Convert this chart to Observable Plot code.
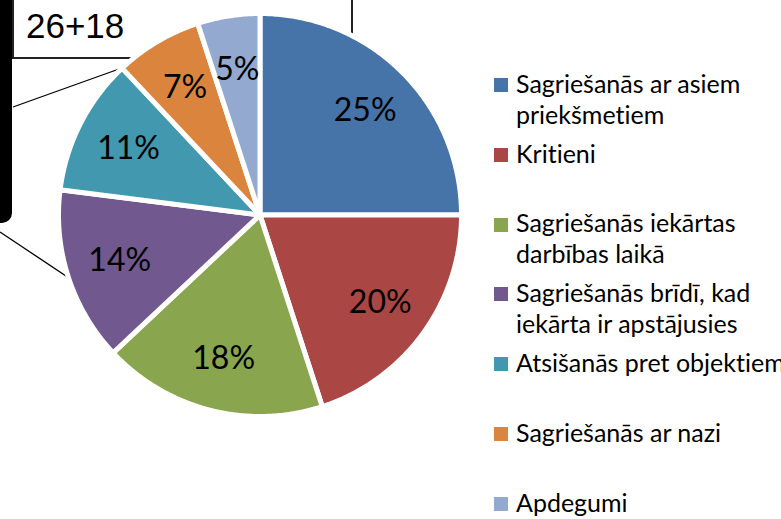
<!DOCTYPE html>
<html><head><meta charset="utf-8">
<script src="https://cdn.jsdelivr.net/npm/d3@7"></script>
<script src="https://cdn.jsdelivr.net/npm/@observablehq/plot@0.6"></script>
<style>
body{margin:0;background:#fff;}
#wrap{position:relative;width:781px;height:519px;overflow:hidden;background:#fff;}
#deco,#chart,#legend{position:absolute;left:0;top:0;}
#legend{width:781px;height:519px;font-family:Lato,sans-serif;font-size:25px;color:#000;font-variant-ligatures:none;font-feature-settings:"liga" 0;}
.item{position:absolute;left:516px;line-height:31px;white-space:pre;}
.sw{position:absolute;left:494px;width:14px;height:14px;}
#chart text{font-variant-ligatures:none;}
</style></head>
<body>
<div id="wrap">
<svg id="deco" width="781" height="519">
  <path d="M0,-10 H12 V213 A10,10 0 0 1 2,223 H0 Z" fill="#000"/>
  <rect x="13" y="-20" width="339" height="78" fill="#fff" stroke="#222" stroke-width="2"/>
  <text x="26" y="38" font-family="Liberation Sans, Arial, sans-serif" font-size="35" fill="#000">26+18</text>
  <line x1="13" y1="107" x2="133" y2="64" stroke="#000" stroke-width="1.3"/>
  <line x1="0" y1="232" x2="138" y2="324" stroke="#000" stroke-width="1.3"/>
</svg>
<div id="chart"></div>
<div id="legend"></div>
</div>
<script>
const categories = [
  "Sagriešanās ar asiem\npriekšmetiem",
  "Kritieni",
  "Sagriešanās iekārtas\ndarbības laikā",
  "Sagriešanās brīdī, kad\niekārta ir apstājusies",
  "Atsišanās pret objektiem",
  "Sagriešanās ar nazi",
  "Apdegumi"
];
const shares = [25, 20, 18, 14, 11, 7, 5];
const palette = ["#4673A8", "#AA4643", "#89A54E", "#71588F", "#4198AF", "#DB843D", "#93A9CF"];

const arcs = d3.pie().sort(null).value(d => d)(shares);
const R = 1.0075;
const rows = [];
arcs.forEach((a, i) => {
  const n = Math.max(2, Math.ceil((a.endAngle - a.startAngle) / 0.01));
  for (let k = 0; k <= n; k++) {
    const t = a.startAngle + (a.endAngle - a.startAngle) * k / n;
    rows.push({cat: categories[i], x1: R * Math.sin(t), y1: R * Math.cos(t), x2: 0, y2: 0});
  }
});
const labelR = 0.74;
const labels = arcs.map((a, i) => {
  const m = (a.startAngle + a.endAngle) / 2;
  return {x: labelR * Math.sin(m), y: labelR * Math.cos(m), t: shares[i] + "%"};
});

const chart = Plot.plot({
  width: 781, height: 519,
  marginLeft: 60, marginRight: 321, marginTop: 15, marginBottom: 104,
  x: {domain: [-1, 1], axis: null},
  y: {domain: [-1, 1], axis: null},
  color: {domain: categories, range: palette},
  style: {background: "transparent"},
  marks: [
    Plot.area(rows, {x1: "x1", y1: "y1", x2: "x2", y2: "y2", z: "cat", fill: "cat", stroke: "white", strokeWidth: 5}),
    Plot.text(labels, {x: "x", y: "y", text: "t", fontSize: 32, fontFamily: "Lato, sans-serif", fill: "#000"})
  ]
});
document.getElementById("chart").appendChild(chart);

const legend = document.getElementById("legend");
categories.forEach((c, i) => {
  const base = 93 + 69.8 * i;
  const sw = document.createElement("div");
  sw.className = "sw";
  sw.style.top = (base - 15) + "px";
  sw.style.background = palette[i];
  legend.appendChild(sw);
  const it = document.createElement("div");
  it.className = "item";
  it.style.top = (base - 25.2) + "px";
  it.textContent = c;
  legend.appendChild(it);
});
</script>
</body></html>
